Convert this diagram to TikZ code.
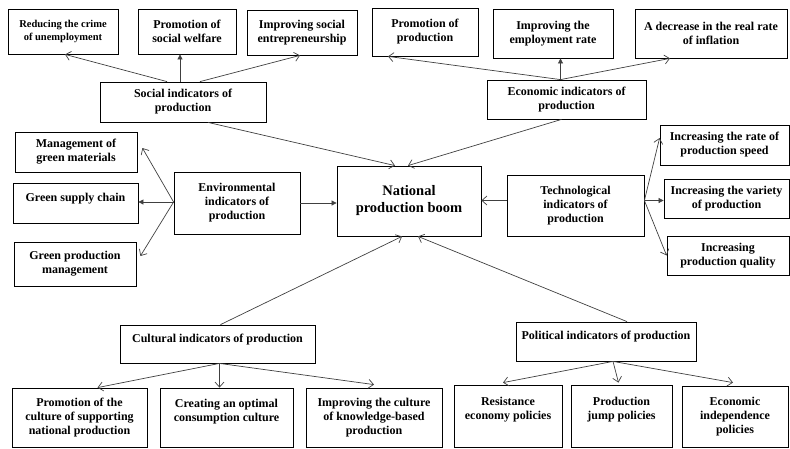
\documentclass[tikz,border=0pt]{standalone}
\usepackage{fontspec}
\setmainfont{Liberation Serif}
\usetikzlibrary{arrows.meta}

\begin{document}
\begin{tikzpicture}[x=1pt,y=-1pt,
    box/.style={draw,line width=0.8pt,align=center,inner sep=2pt,
      font=\fontsize{12}{14}\selectfont\bfseries},
    wh/.style 2 args={minimum width=#1,minimum height=#2},
    lift/.style={text depth=#1},
    lnk/.style={draw=black!75,line width=0.7pt,-{Straight Barb[length=5pt,width=9pt]}},
    lnkf/.style={draw=black!75,line width=0.7pt,-{Triangle[length=5pt,width=5pt]}}]
  \useasboundingbox (0,0) rectangle (790,448);
  % social
  \node[box,wh={110}{45},font=\fontsize{10.5}{13}\selectfont\bfseries] (crime) at (63,31.5) {Reducing the crime\\of unemployment};
  \node[box,wh={98}{45}] (welf) at (187,31.5) {Promotion of\\social welfare};
  \node[box,wh={110}{45}] (entr) at (302,32.5) {Improving social\\entrepreneurship};
  \node[box,wh={166}{40}] (soc) at (183,102) {Social indicators of\\production};
  % economic
  \node[box,wh={106}{48}] (promo) at (425,32) {Promotion of\\production};
  \node[box,wh={120}{49}] (empl) at (553,33.5) {Improving the\\employment rate};
  \node[box,wh={152}{49}] (infl) at (711,33.5) {A decrease in the real rate\\of inflation};
  \node[box,wh={159}{39}] (eco) at (566.5,99.5) {Economic indicators of\\production};
  % centre
  \node[box,wh={144}{70},font=\fontsize{14.5}{17}\selectfont\bfseries] (nat) at (409,201) {National\\production boom};
  % environmental
  \node[box,wh={126}{62}] (env) at (237,203) {Environmental\\indicators of\\production};
  \node[box,wh={122}{40}] (mat) at (76,152) {Management of\\green materials};
  \node[box,wh={125}{40},lift=12pt] (chain) at (75.5,203) {Green supply chain};
  \node[box,wh={122}{44}] (gpm) at (75,264) {Green production\\management};
  % technological
  \node[box,wh={137}{61}] (tech) at (575.5,205.5) {Technological\\indicators of\\production};
  \node[box,wh={129}{40}] (speed) at (724.5,145) {Increasing the rate of\\production speed};
  \node[box,wh={125}{39}] (vari) at (726.5,198.5) {Increasing the variety\\of production};
  \node[box,wh={122}{39}] (qual) at (728,255.5) {Increasing\\production quality};
  % cultural
  \node[box,wh={195}{38},lift=12pt] (cult) at (217.5,344) {Cultural indicators of production};
  \node[box,wh={135}{59}] (supp) at (79.5,417.5) {Promotion of the\\culture of supporting\\national production};
  \node[box,wh={133}{59},lift=15pt] (opt) at (226.5,417.5) {Creating an optimal\\consumption culture};
  \node[box,wh={136}{59}] (know) at (374,417.5) {Improving the culture\\of knowledge-based\\production};
  % political
  \node[box,wh={180}{39},lift=12pt] (pol) at (606,341.5) {Political indicators of production};
  \node[box,wh={108}{62},lift=15pt] (resi) at (508,416) {Resistance\\economy policies};
  \node[box,wh={101}{62},lift=15pt] (jump) at (621.5,416) {Production\\jump policies};
  \node[box,wh={106}{61}] (indep) at (735,416.5) {Economic\\independence\\policies};

  \draw[lnk] ([xshift=-16pt]soc.north) -- ([xshift=2pt]crime.south);
  \draw[lnkf] ([xshift=-3pt]soc.north) -- ([xshift=-3pt]soc.north |- welf.south);
  \draw[lnk] ([xshift=17pt]soc.north) -- ([xshift=-2pt]entr.south);
  \draw[lnk] ([xshift=25pt]soc.south) -- ([xshift=-14pt]nat.north);

  \coordinate (e0) at ([xshift=-6pt]eco.north);
  \draw[lnk] (e0) -- ([xshift=-37pt]promo.south);
  \draw[lnkf] (e0) -- (e0 |- empl.south);
  \draw[lnk] (e0) -- ([xshift=-41pt]infl.south);
  \draw[lnk] ([xshift=-5pt]eco.south) -- ([xshift=-1pt]nat.north);

  \coordinate (v0) at ([yshift=1pt]env.west);
  \draw[lnk] (v0) -- ([xshift=5pt,yshift=4pt]mat.east);
  \draw[lnkf] (v0) -- (v0 -| chain.east);
  \draw[lnk] (v0) -- ([xshift=4pt,yshift=8pt]gpm.east);
  \draw[lnkf] (env.east) -- (env.east -| nat.west);

  \coordinate (t0) at ([yshift=5pt]tech.east);
  \draw[lnk] (t0) -- ([yshift=7pt]speed.west);
  \draw[lnkf] (t0) -- (t0 -| vari.west);
  \draw[lnk] (t0) -- (qual.west);
  \draw[lnk] ([yshift=5pt]tech.west) -- ([yshift=5pt]tech.west -| nat.east);

  \coordinate (c0) at ([xshift=2pt]cult.south);
  \draw[lnk] (c0) -- ([xshift=18pt]supp.north);
  \draw[lnk] (c0) -- (c0 |- opt.north);
  \draw[lnk] (c0) -- ([yshift=3pt]know.north);
  \draw[lnk] ([xshift=3pt]cult.north) -- ([xshift=-7pt]nat.south);

  \coordinate (q0) at ([xshift=7pt]pol.south);
  \draw[lnk] (q0) -- ([xshift=-5pt,yshift=2pt]resi.north);
  \draw[lnk] (q0) -- ([xshift=-3pt,yshift=2pt]jump.north);
  \draw[lnk] (q0) -- ([xshift=-2pt,yshift=3pt]indep.north);
  \draw[lnk] ([xshift=21pt]pol.north) -- ([xshift=9pt]nat.south);
\end{tikzpicture}
\end{document}
